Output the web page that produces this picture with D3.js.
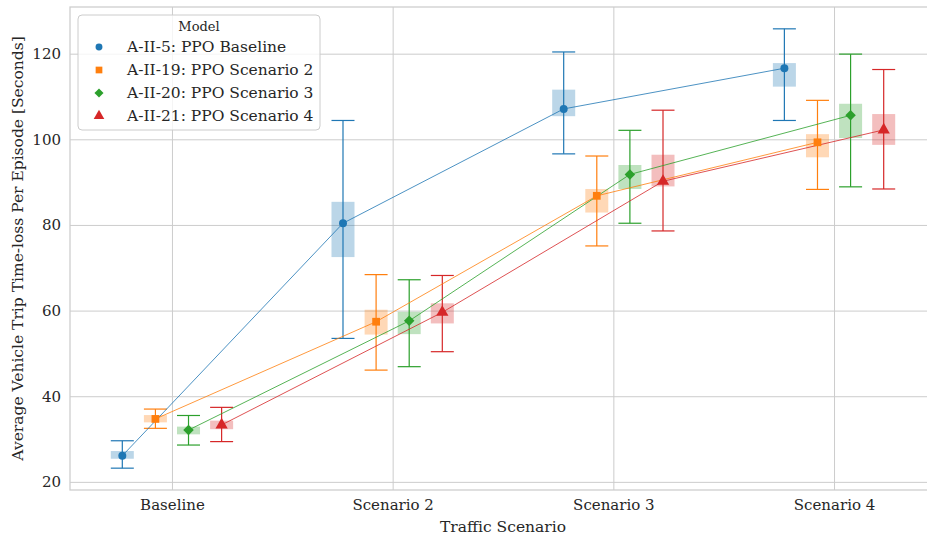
<!DOCTYPE html>
<html lang="en">
<head>
    <meta charset="UTF-8">
    <title>Average Vehicle Trip Time-loss</title>
    <script src="https://d3js.org/d3.v7.min.js"></script>
    <style>
        body { margin: 0; background: #fff; }
        svg text { font-family: "DejaVu Serif", serif; fill: #262626; }
        .grid line { stroke: #cccccc; stroke-width: 1; }
        .grid path { display: none; }
    </style>
</head>
<body>
<svg id="chart" width="927" height="538"></svg>

<script>
    // Categories on the x axis
    const scenarios = ["Baseline", "Scenario 2", "Scenario 3", "Scenario 4"];
    // Models (hue)
    const models = ["A-II-5: PPO Baseline", "A-II-19: PPO Scenario 2", "A-II-20: PPO Scenario 3", "A-II-21: PPO Scenario 4"];
    const colors = ["#1f77b4", "#ff7f0e", "#2ca02c", "#d62728"];
    const yTicks = [20, 40, 60, 80, 100, 120];

    // Mean per model, one value per scenario
    const meanBaseline = [26.1, 80.4, 107.1, 116.6];
    const meanScen2    = [34.7, 57.4, 86.8, 99.3];
    const meanScen3    = [32.1, 57.6, 91.8, 105.6];
    const meanScen4    = [33.3, 59.6, 90.2, 102.2];

    // Whisker ends (low / high)
    const lowBaseline  = [23.2, 53.5, 96.6, 104.4];
    const highBaseline = [29.6, 104.4, 120.4, 125.8];
    const lowScen2     = [32.5, 46.1, 75.1, 88.3];
    const highScen2    = [37.0, 68.4, 96.1, 109.1];
    const lowScen3     = [28.6, 46.9, 80.4, 88.9];
    const highScen3    = [35.5, 67.2, 102.1, 119.9];
    const lowScen4     = [29.4, 50.4, 78.6, 88.4];
    const highScen4    = [37.4, 68.2, 106.8, 116.3];

    // Shaded band (low / high)
    const boxLoBaseline = [25.4, 72.5, 105.4, 112.3];
    const boxHiBaseline = [27.2, 85.4, 111.6, 117.8];
    const boxLoScen2    = [33.9, 54.4, 82.9, 95.8];
    const boxHiScen2    = [35.6, 60.2, 88.4, 101.2];
    const boxLoScen3    = [31.1, 54.5, 88.4, 100.3];
    const boxHiScen3    = [32.9, 59.7, 94.0, 108.3];
    const boxLoScen4    = [32.3, 57.0, 89.0, 98.7];
    const boxHiScen4    = [34.3, 61.7, 96.4, 105.9];

    const means = [meanBaseline, meanScen2, meanScen3, meanScen4];
    const lows = [lowBaseline, lowScen2, lowScen3, lowScen4];
    const highs = [highBaseline, highScen2, highScen3, highScen4];
    const boxLos = [boxLoBaseline, boxLoScen2, boxLoScen3, boxLoScen4];
    const boxHis = [boxHiBaseline, boxHiScen2, boxHiScen3, boxHiScen4];
    const dodge = [-0.225, -0.075, 0.075, 0.225];

    const svg = d3.select("#chart");
    const mLeft = 70, mTop = 7, mBottom = 490, mRight = 936;

    const x = d3.scaleLinear().domain([-0.462, 3.462]).range([mLeft, mRight]);
    const y = d3.scaleLinear().domain([18.1, 130.9]).range([mBottom, mTop]);

    // grid
    svg.append("g").attr("class", "grid")
        .attr("transform", `translate(${mLeft},0)`)
        .call(d3.axisLeft(y).tickValues(yTicks).tickSize(-(mRight - mLeft)).tickFormat(""));
    svg.append("g").attr("class", "grid")
        .attr("transform", `translate(0,${mBottom})`)
        .call(d3.axisBottom(x).tickValues(d3.range(scenarios.length)).tickSize(-(mBottom - mTop)).tickFormat(""));

    // frame
    svg.append("rect")
        .attr("x", mLeft).attr("y", mTop)
        .attr("width", mRight - mLeft).attr("height", mBottom - mTop)
        .attr("fill", "none").attr("stroke", "#cccccc").attr("stroke-width", 1.25);

    // tick labels
    const yAxis = svg.append("g")
        .attr("transform", `translate(${mLeft},0)`)
        .call(d3.axisLeft(y).tickValues(yTicks).tickSize(0).tickPadding(9));
    yAxis.select(".domain").remove();
    yAxis.selectAll("text").style("font-size", "15px").style("font-family", "DejaVu Serif").attr("fill", "#262626");

    const xAxis = svg.append("g")
        .attr("transform", `translate(0,${mBottom})`)
        .call(d3.axisBottom(x).tickValues(d3.range(scenarios.length)).tickFormat(i => scenarios[i]).tickSize(0).tickPadding(9));
    xAxis.select(".domain").remove();
    xAxis.selectAll("text").style("font-size", "15px").style("font-family", "DejaVu Serif").attr("fill", "#262626");

    // axis labels
    svg.append("text")
        .attr("x", (mLeft + mRight) / 2).attr("y", 532)
        .attr("text-anchor", "middle").style("font-size", "15.5px")
        .text("Traffic Scenario");
    svg.append("text")
        .attr("transform", `translate(23,${(mTop + mBottom) / 2}) rotate(-90)`)
        .attr("text-anchor", "middle").style("font-size", "15.5px")
        .text("Average Vehicle Trip Time-loss Per Episode [Seconds]");

    const boxW = 23;
    const symbols = [d3.symbolCircle, d3.symbolSquare, d3.symbolSquare, d3.symbolTriangle];
    const symRot = [0, 0, 45, 0];
    const symSizes = [50, 60, 55, 65];

    models.forEach((m, k) => {
        const g = svg.append("g");
        const xs = scenarios.map((s, i) => x(i + dodge[k]));

        // shaded bands
        g.selectAll("rect.band").data(scenarios).join("rect")
            .attr("x", (d, i) => xs[i] - boxW / 2)
            .attr("width", boxW)
            .attr("y", (d, i) => y(boxHis[k][i]))
            .attr("height", (d, i) => y(boxLos[k][i]) - y(boxHis[k][i]))
            .attr("fill", colors[k]).attr("fill-opacity", 0.3);

        // whiskers
        scenarios.forEach((s, i) => {
            g.append("line")
                .attr("x1", xs[i]).attr("x2", xs[i])
                .attr("y1", y(lows[k][i])).attr("y2", y(highs[k][i]))
                .attr("stroke", colors[k]).attr("stroke-width", 1.2);
            [lows[k][i], highs[k][i]].forEach(v => {
                g.append("line")
                    .attr("x1", xs[i] - boxW / 2).attr("x2", xs[i] + boxW / 2)
                    .attr("y1", y(v)).attr("y2", y(v))
                    .attr("stroke", colors[k]).attr("stroke-width", 1.2);
            });
        });
    });

    models.forEach((m, k) => {
        const line = d3.line()
            .x((d, i) => x(i + dodge[k]))
            .y(d => y(d));
        svg.append("path")
            .datum(means[k])
            .attr("d", line)
            .attr("fill", "none")
            .attr("stroke", colors[k])
            .attr("stroke-opacity", 0.8)
            .attr("stroke-width", 1);
    });

    models.forEach((m, k) => {
        svg.append("g").selectAll("path").data(means[k]).join("path")
            .attr("transform", (d, i) => `translate(${x(i + dodge[k])},${y(d)}) rotate(${symRot[k]})`)
            .attr("d", d3.symbol().type(symbols[k]).size(symSizes[k]))
            .attr("fill", colors[k]);
    });

    // legend
    const lg = svg.append("g").attr("transform", "translate(78,15)");
    lg.append("rect")
        .attr("width", 242).attr("height", 115)
        .attr("rx", 4)
        .attr("fill", "#fff").attr("fill-opacity", 0.8)
        .attr("stroke", "#cccccc");
    lg.append("text")
        .attr("x", 121).attr("y", 16)
        .attr("text-anchor", "middle").style("font-size", "13px")
        .text("Model");
    models.forEach((m, k) => {
        const yy = 32 + k * 23;
        lg.append("path")
            .attr("transform", `translate(21,${yy}) rotate(${symRot[k]})`)
            .attr("d", d3.symbol().type(symbols[k]).size(symSizes[k] * 0.75))
            .attr("fill", colors[k]);
        lg.append("text")
            .attr("x", 49).attr("y", yy + 5)
            .style("font-size", "15.5px")
            .text(m);
    });
</script>
</body>
</html>
